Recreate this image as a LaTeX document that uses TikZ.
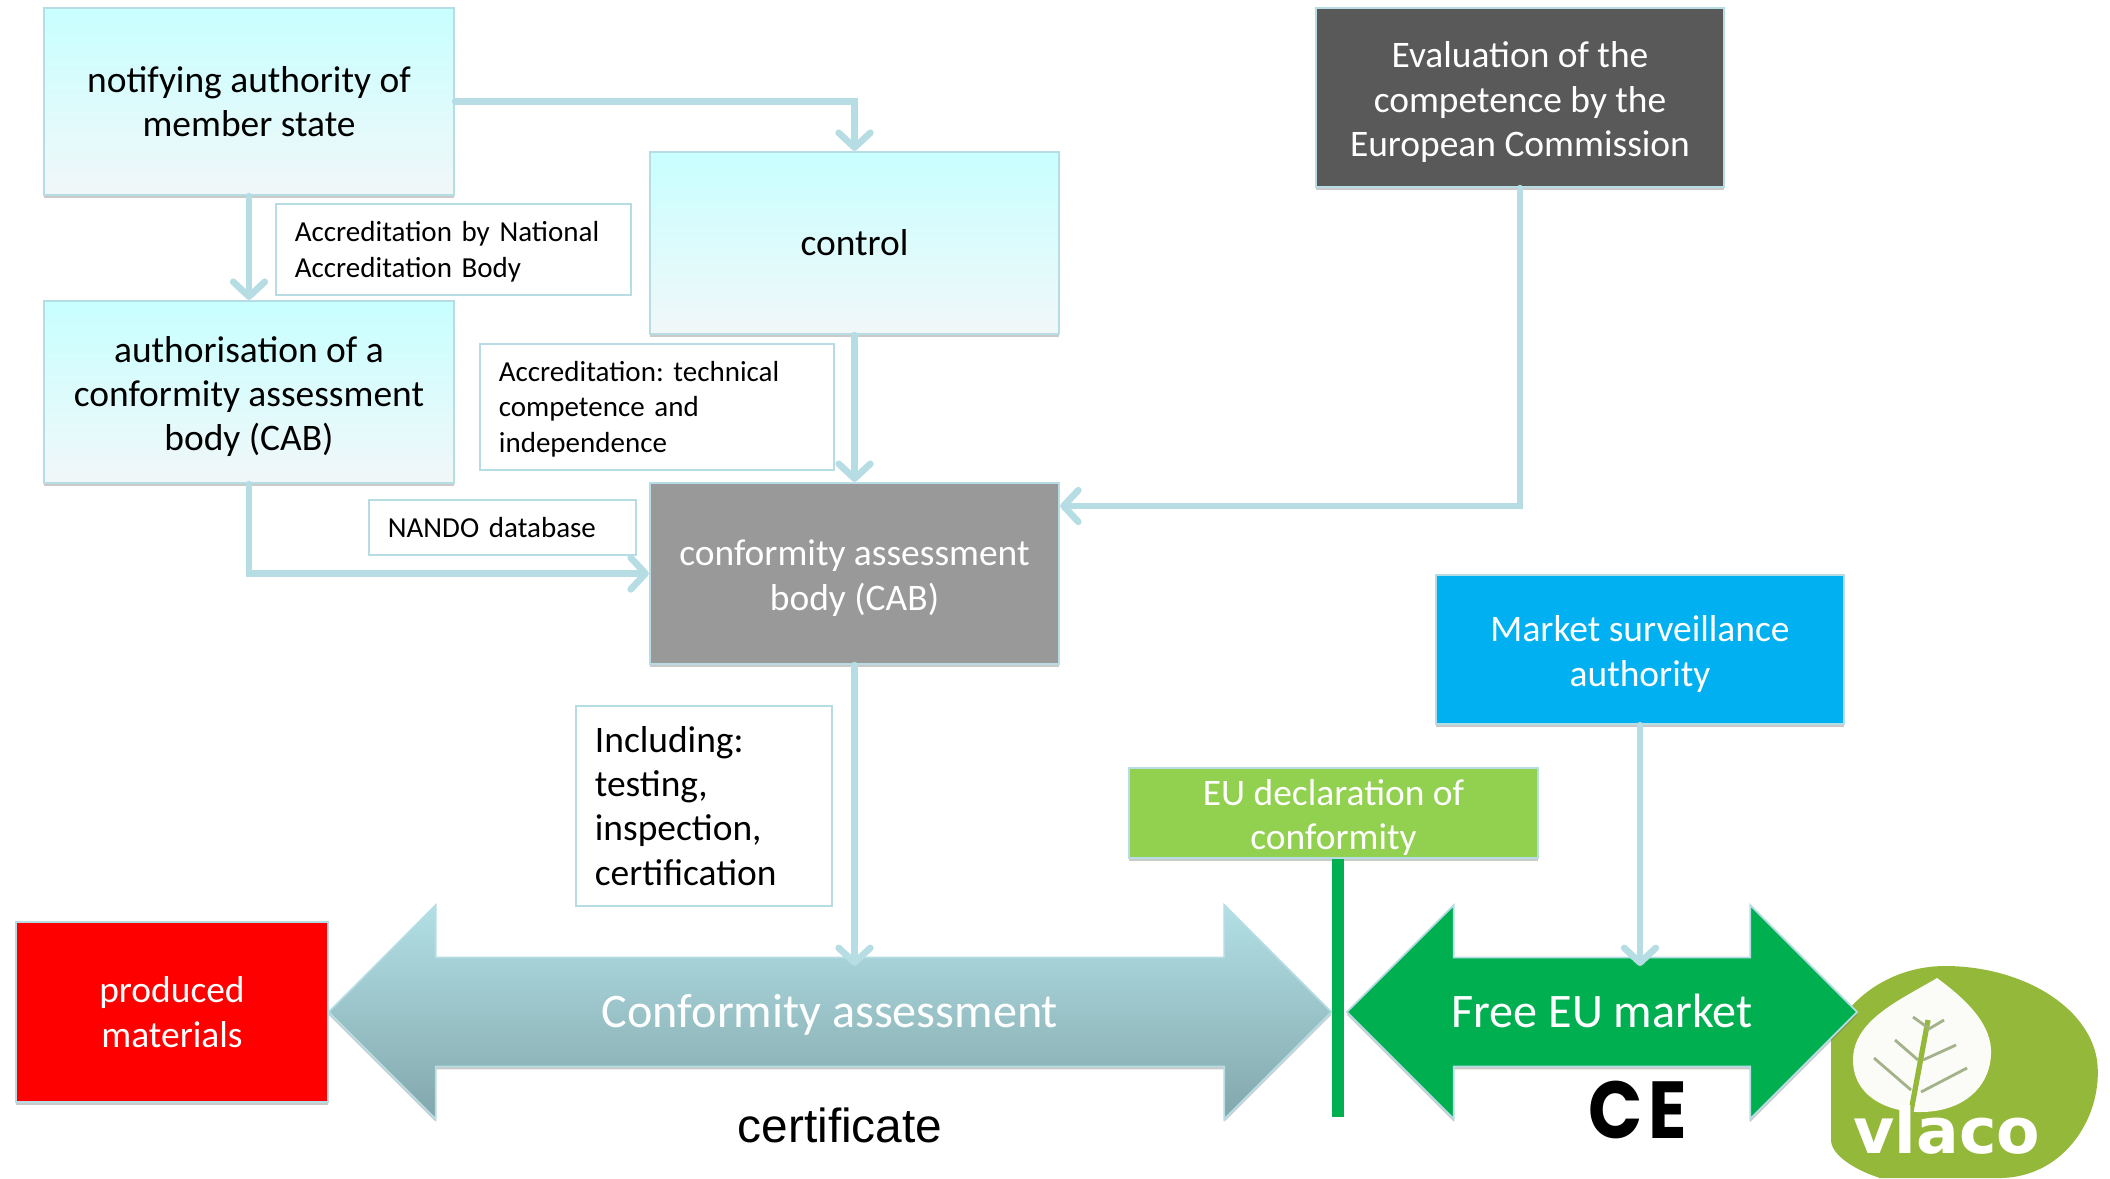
\documentclass[tikz,border=0pt]{standalone}
\usepackage{fontspec}
\setmainfont{Carlito}
\newfontfamily\certfont{Liberation Sans}
\newfontfamily\markfont{Poppins}
\newfontfamily\logofont{DejaVu Sans}
\usetikzlibrary{shapes.arrows}
\usetikzlibrary{shadows}
\usetikzlibrary{arrows.meta}
\definecolor{linkblue}{HTML}{B5DDE3}
\definecolor{topcyan}{HTML}{C8FFFF}
\definecolor{lowcyan}{HTML}{F1F7F9}
\definecolor{evalgrey}{HTML}{595959}
\definecolor{cabgrey}{HTML}{999999}
\definecolor{marketblue}{HTML}{00B0F0}
\definecolor{declgreen}{HTML}{92D050}
\definecolor{freegreen}{HTML}{00AF50}
\definecolor{arrowtop}{HTML}{B2E0E5}
\definecolor{arrowlow}{HTML}{82A7AC}
\definecolor{logogreen}{HTML}{94B83A}
\definecolor{treegrey}{HTML}{A3B28A}
\newcommand{\lowstrut}{\rule{0pt}{10pt}}
\tikzset{
  softshadow/.style={drop shadow={shadow xshift=0pt,shadow yshift=-.8pt,opacity=.35,fill=black!60}},
  lowtext/.style={execute at begin node={\rule{0pt}{#1}}},
  mainbox/.style={draw=linkblue, line width=.6pt, align=center, inner sep=0pt, softshadow,
    font=\fontsize{10.65}{12.6}\selectfont},
  cyanbox/.style={mainbox, top color=topcyan, bottom color=lowcyan, text=black},
  solidbox/.style={mainbox, fill=#1, text=white},
  notebox/.style={draw=linkblue, line width=.5pt, fill=white, align=left, anchor=north west,
    inner xsep=.19cm, inner ysep=0pt, font=\fontsize{8.25}{10.1}\selectfont\frenchspacing},
  bigarrow/.style={double arrow, draw=linkblue, line width=.5pt, inner xsep=0pt, inner ysep=.335cm,
    text height=.35cm, text depth=.05cm,
    minimum height=#1, minimum width=2.12cm, double arrow head extend=.525cm,
    double arrow tip angle=90, double arrow head indent=0pt, softshadow,
    text=white, font=\fontsize{13.7}{17}\selectfont},
  link/.style={draw=linkblue, line width=1.9pt, line cap=round,
    -{Straight Barb[length=4.2pt,width=9pt,round]}},
}
\begin{document}
\begin{tikzpicture}[x=0.01cm,y=-0.01cm]
  \useasboundingbox (0,0) rectangle (2110,1178);

  % logo
  \fill [logogreen] (1831,1040) .. controls (1845,1000) and (1890,966) .. (1945,966)
    .. controls (2020,966) and (2088,1005) .. (2097,1060)
    .. controls (2104,1115) and (2065,1178) .. (1999,1178) -- (1880,1178)
    .. controls (1855,1170) and (1831,1155) .. (1831,1140) -- cycle;
  \fill [white!96!logogreen] (1937,978) .. controls (1900,1000) and (1853,1020) .. (1853,1060)
    .. controls (1853,1095) and (1885,1112) .. (1920,1112)
    .. controls (1965,1112) and (1992,1085) .. (1991,1050)
    .. controls (1990,1020) and (1960,995) .. cycle;
  \draw [logogreen, line width=1.5pt] (1909,1122) -- (1928,1020);
  \foreach \xa/\ya/\xb/\yb in {1911/1090/1874/1058, 1921/1092/1967/1068, 1918/1060/1895/1040,
      1923/1060/1956/1045, 1927/1027/1913/1017, 1927/1030/1944/1020}
    \draw [treegrey, line width=.8pt] (\xa,\ya) -- (\xb,\yb);
  \node (logotext) [anchor=base, text=white, inner sep=0pt, font=\logofont\bfseries\fontsize{18}{18}\selectfont]
    at (1947,1153) {vlaco};

  % boxes
  \node (notify) [cyanbox, minimum width=4.1cm, minimum height=1.87cm] at (249,101.5)
    {notifying authority of\\member state};
  \node (authorisation) [cyanbox, minimum width=4.1cm, minimum height=1.82cm] at (249,392)
    {\lowstrut authorisation of a\\conformity assessment\\body (CAB)};
  \node (control) [cyanbox, minimum width=4.09cm, minimum height=1.82cm] at (854.5,243) {control};
  \node (evaluation) [solidbox=evalgrey, minimum width=4.08cm, minimum height=1.79cm] at (1520,97.5)
    {\lowstrut Evaluation of the\\competence by the\\European Commission};
  \node (cab) [solidbox=cabgrey, minimum width=4.09cm, minimum height=1.81cm] at (854.5,573.5)
    {\lowstrut conformity assessment\\body (CAB)};
  \node (market) [solidbox=marketblue, minimum width=4.08cm, minimum height=1.49cm] at (1640,649.5)
    {\lowstrut Market surveillance\\authority};
  \node (declaration) [solidbox=declgreen, minimum width=4.09cm, minimum height=.9cm] at (1333.5,813)
    {\lowstrut EU declaration of\\conformity};
  \node (materials) [solidbox=red, minimum width=3.12cm, minimum height=1.8cm] at (172,1012)
    {produced\\materials};

  % notes
  \node (nationalnote) [notebox, lowtext=7pt, text width=3.17cm, minimum height=.91cm] at (275,203)
    {Accreditation by National\\Accreditation Body};
  \node (technote) [notebox, lowtext=7pt, text width=3.16cm, minimum height=1.26cm] at (479,343)
    {Accreditation: technical\\competence and\\independence};
  \node (nandonote) [notebox, text width=2.29cm, minimum height=.55cm] at (368,499)
    {NANDO database};
  \node (includingnote) [notebox, text width=2.18cm, minimum height=2cm,
    font=\fontsize{10.65}{12.6}\selectfont] at (575,705)
    {Including:\\testing,\\inspection,\\certification};

  % big arrows
  \node (conformity) [bigarrow=10.02cm, top color=arrowtop, bottom color=arrowlow] at (830,1012)
    {Conformity assessment};
  \node (freemarket) [bigarrow=5.1cm, fill=freegreen] at (1602,1012) {Free EU market};
  \coordinate (bartop) at (1338,859);
  \coordinate (barend) at (1338,1117);
  \draw [freegreen, line width=3.4pt, softshadow] (bartop) -- (barend);

  \node (certificate) [inner sep=0pt, font=\certfont\fontsize{13.6}{16}\selectfont] at (840,1125) {certificate};
  \node (cemark) [inner sep=0pt, font=\markfont\bfseries\fontsize{23}{23}\selectfont] at (1638,1110)
    {\scalebox{.88}[1]{C\hspace{2pt}E}};

  % connectors
  \coordinate (cabeast) at (cab.east |- 0,506);
  \coordinate (conformityend) at (cab.south |- 0,966);
  \coordinate (marketend) at (market.south |- 0,966);
  \draw [link] (notify.east) -| (control.north);
  \draw [link] (notify.south) -- (authorisation.north);
  \draw [link] (authorisation.south) |- (cab.west);
  \draw [link] (control.south) -- (cab.north);
  \draw [link] (evaluation.south) |- (cabeast);
  \draw [link] (cab.south) -- (conformityend);
  \draw [link] (market.south) -- (marketend);
\end{tikzpicture}
\end{document}
